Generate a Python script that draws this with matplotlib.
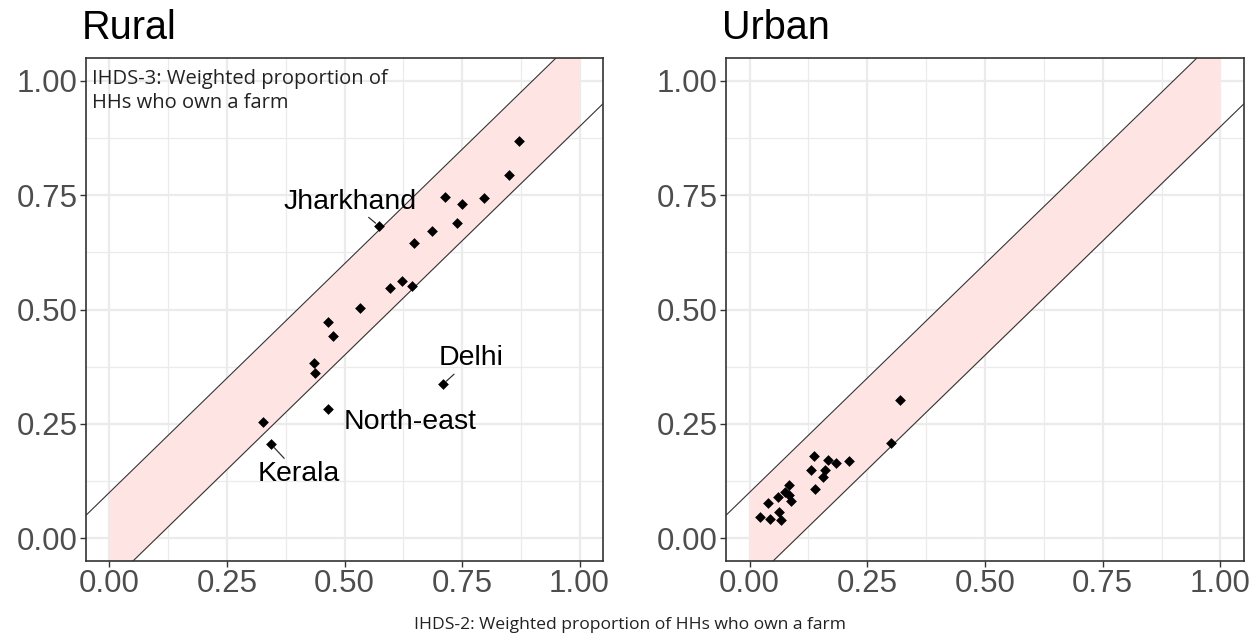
import matplotlib
matplotlib.use("Agg")
import matplotlib.pyplot as plt
import numpy as np

# IHDS-2 (x) vs IHDS-3 (y) weighted proportion of HHs who own a farm
rural_x = [0.871, 0.850, 0.713, 0.751, 0.797, 0.739, 0.686, 0.648, 0.573, 0.622, 0.596,
           0.643, 0.532, 0.464, 0.476, 0.435, 0.438, 0.710, 0.464, 0.326, 0.344]
rural_y = [0.868, 0.795, 0.747, 0.731, 0.744, 0.689, 0.671, 0.646, 0.683, 0.562, 0.546,
           0.552, 0.504, 0.472, 0.443, 0.384, 0.361, 0.337, 0.283, 0.255, 0.205]

urban_x = [0.319, 0.300, 0.136, 0.166, 0.183, 0.212, 0.130, 0.161, 0.156, 0.140,
           0.084, 0.075, 0.083, 0.087, 0.061, 0.040, 0.063, 0.022, 0.044, 0.066]
urban_y = [0.301, 0.207, 0.180, 0.171, 0.164, 0.168, 0.150, 0.148, 0.133, 0.107,
           0.116, 0.100, 0.095, 0.081, 0.090, 0.076, 0.058, 0.047, 0.041, 0.039]

# labelled states (rural panel): point index, label position
lab_names = ["Jharkhand", "Delhi", "North-east", "Kerala"]
lab_idx = [8, 17, 18, 20]
lab_x = [0.511, 0.770, 0.640, 0.403]
lab_y = [0.736, 0.393, 0.255, 0.140]
lab_segment = [True, True, False, True]

band = 0.1
ticks = [0.0, 0.25, 0.5, 0.75, 1.0]
tick_labels = ["0.00", "0.25", "0.50", "0.75", "1.00"]

fig = plt.figure(figsize=(12.6, 6.39), dpi=100)
ax1 = fig.add_axes([86/1260, 1-561/639, (603-86)/1260, (561-58)/639])
ax2 = fig.add_axes([726/1260, 1-561/639, (1244-726)/1260, (561-58)/639])

xx = np.linspace(0, 1, 2)
lx = np.linspace(-0.2, 1.2, 2)

for ax, xs, ys, title in [(ax1, rural_x, rural_y, "Rural"), (ax2, urban_x, urban_y, "Urban")]:
    ax.fill_between(xx, xx - band, xx + band, color="#ffe4e4", lw=0, zorder=1)
    ax.plot(lx, lx + band, color="#333333", lw=0.8, zorder=2)
    ax.plot(lx, lx - band, color="#333333", lw=0.8, zorder=2)
    ax.scatter(xs, ys, marker="D", s=30, color="black", zorder=3, linewidths=0)
    ax.set_xlim(-0.05, 1.05)
    ax.set_ylim(-0.05, 1.05)
    ax.set_xticks(ticks)
    ax.set_xticklabels(tick_labels)
    ax.set_yticks(ticks)
    ax.set_yticklabels(tick_labels)
    ax.set_xticks([0.125, 0.375, 0.625, 0.875], minor=True)
    ax.set_yticks([0.125, 0.375, 0.625, 0.875], minor=True)
    ax.grid(which="major", color="#ebebeb", lw=1.6, zorder=0)
    ax.grid(which="minor", color="#ebebeb", lw=0.9, zorder=0)
    ax.set_axisbelow(True)
    ax.tick_params(which="major", length=4, width=1, color="#333333",
                   labelsize=22.5, labelcolor="#4d4d4d", pad=2)
    ax.tick_params(which="minor", length=0)
    for s in ax.spines.values():
        s.set_color("#333333")
        s.set_linewidth(1.2)
    for lbl in ax.get_xticklabels() + ax.get_yticklabels():
        lbl.set_family(["Liberation Sans", "DejaVu Sans"])
    ax.text(-0.008, 1 + 19/503, title, transform=ax.transAxes, fontsize=28.5, ha="left",
            va="baseline", family=["Liberation Sans", "DejaVu Sans"])

for name, i, tx, ty, seg in zip(lab_names, lab_idx, lab_x, lab_y, lab_segment):
    props = dict(arrowstyle="-", color="#333333", lw=0.9, shrinkA=0, shrinkB=3) if seg else None
    ax1.annotate(name, xy=(rural_x[i], rural_y[i]), xytext=(tx, ty), ha="center", va="center",
                 fontsize=20.5, family=["Liberation Sans", "DejaVu Sans"], arrowprops=props, zorder=4)

ax1.text(0.011, 0.979, "IHDS-3: Weighted proportion of\nHHs who own a farm", transform=ax1.transAxes,
         ha="left", va="top", fontsize=14.5, family=["Open Sans", "DejaVu Sans"],
         color="#222222", linespacing=1.3)

fig.text(0.5, 1-625/639, "IHDS-2: Weighted proportion of HHs who own a farm", ha="center", va="center",
         fontsize=12.6, family=["Open Sans", "DejaVu Sans"], color="#222222")

fig.savefig("out.png", dpi=100)
